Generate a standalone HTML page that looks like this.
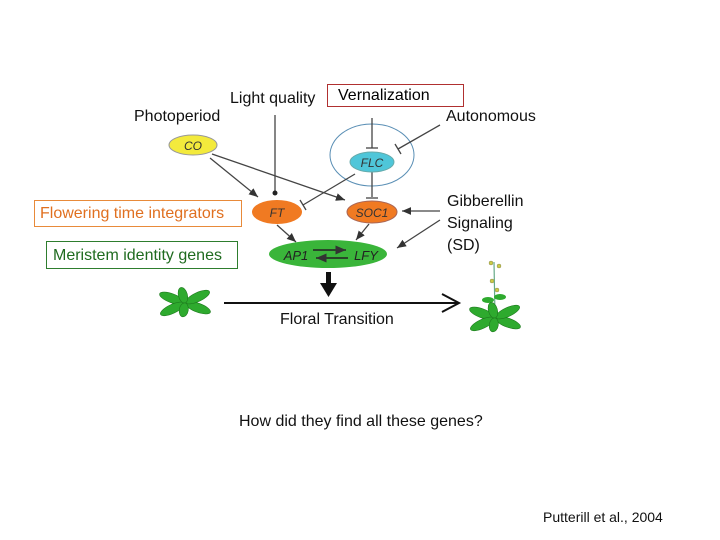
<!DOCTYPE html>
<html><head><meta charset="utf-8"><style>
html,body{margin:0;padding:0;background:#fff}
body{width:720px;height:540px;position:relative;overflow:hidden;font-family:"Liberation Sans",sans-serif}
.t{position:absolute;font-size:16px;color:#111;white-space:nowrap;line-height:1}
.box{position:absolute;font-size:16px;line-height:1;white-space:nowrap;box-sizing:border-box}
</style></head><body>
<svg width="720" height="540" style="position:absolute;left:0;top:0">
<defs>
<marker id="a" markerWidth="8" markerHeight="8" refX="7" refY="4" orient="auto"><path d="M0,1 L7,4 L0,7 z" fill="#333"/></marker>
<g id="ros" fill="#2eaa2e" stroke="#1d7a1d" stroke-width=".6">
<ellipse cx="-14" cy="0" rx="13" ry="4.5" transform="rotate(20)"/>
<ellipse cx="-14" cy="0" rx="13" ry="4.5" transform="rotate(-25)"/>
<ellipse cx="14" cy="0" rx="13" ry="4.5" transform="rotate(20)"/>
<ellipse cx="14" cy="0" rx="13" ry="4.5" transform="rotate(-25)"/>
<ellipse cx="0" cy="-8" rx="4.5" ry="8" transform="rotate(-15)"/>
<ellipse cx="0" cy="7" rx="4.5" ry="7" transform="rotate(10)"/>
</g>
</defs>
<ellipse cx="372" cy="155" rx="42" ry="31" fill="none" stroke="#5a8fb5" stroke-width="1"/>
<g stroke="#444" stroke-width="1.3" fill="none">
<line x1="210" y1="158" x2="258" y2="197" marker-end="url(#a)"/>
<line x1="212" y1="154" x2="345" y2="200" marker-end="url(#a)"/>
<line x1="275" y1="115" x2="275" y2="193"/>
<line x1="372" y1="118" x2="372" y2="148"/><line x1="366" y1="148" x2="378" y2="148"/>
<line x1="440" y1="125" x2="398" y2="149"/><line x1="395" y1="144" x2="401" y2="154"/>
<line x1="355" y1="174" x2="303" y2="205"/><line x1="300" y1="200" x2="306" y2="210"/>
<line x1="372" y1="172" x2="372" y2="197"/><line x1="366" y1="198" x2="378" y2="198"/>
<line x1="440" y1="211" x2="402" y2="211" marker-end="url(#a)"/>
<line x1="440" y1="220" x2="397" y2="248" marker-end="url(#a)"/>
<line x1="277" y1="225" x2="296" y2="242" marker-end="url(#a)"/>
<line x1="369" y1="224" x2="356" y2="240" marker-end="url(#a)"/>
</g>
<circle cx="275" cy="193" r="2.5" fill="#222"/>
<ellipse cx="193" cy="145" rx="24" ry="10" fill="#f3ea3c" stroke="#999"/>
<text x="193" y="150" font-size="12" text-anchor="middle" font-style="italic" fill="#333">CO</text>
<ellipse cx="372" cy="162" rx="22" ry="10" fill="#4fc6d9" stroke="#6aa"/>
<text x="372" y="167" font-size="12" text-anchor="middle" font-style="italic" fill="#333">FLC</text>
<ellipse cx="277" cy="212" rx="25" ry="12" fill="#f07a22"/>
<text x="277" y="217" font-size="12" text-anchor="middle" font-style="italic" fill="#333">FT</text>
<ellipse cx="372" cy="212" rx="25" ry="11" fill="#f07a22" stroke="#a65"/>
<text x="372" y="217" font-size="12" text-anchor="middle" font-style="italic" fill="#333">SOC1</text>
<ellipse cx="328" cy="254" rx="59" ry="14" fill="#3ab53a"/>
<text x="296" y="260" font-size="13" text-anchor="middle" font-style="italic" fill="#222">AP1</text>
<text x="366" y="260" font-size="13" text-anchor="middle" font-style="italic" fill="#222">LFY</text>
<g stroke="#222" stroke-width="1.5"><line x1="313" y1="250" x2="346" y2="250" marker-end="url(#a)"/><line x1="348" y1="258" x2="316" y2="258" marker-end="url(#a)"/></g>
<rect x="326" y="272" width="5" height="12" fill="#111"/>
<path d="M320,283 L337,283 L328.5,297 z" fill="#111"/>
<line x1="224" y1="303" x2="458" y2="303" stroke="#111" stroke-width="2"/>
<path d="M442,294 L459,303 L442,312" fill="none" stroke="#111" stroke-width="2"/>
<use href="#ros" transform="translate(185,303)"/>
<line x1="495" y1="316" x2="494" y2="262" stroke="#6a8" stroke-width="1.2"/>
<g fill="#2eaa2e"><ellipse cx="488" cy="300" rx="6" ry="3"/><ellipse cx="500" cy="297" rx="6" ry="3"/></g>
<use href="#ros" transform="translate(495,318)"/>
<g fill="#cc4" stroke="#885" stroke-width=".5"><circle cx="491" cy="263" r="2"/><circle cx="499" cy="266" r="2"/><circle cx="492" cy="281" r="2"/><circle cx="497" cy="290" r="2"/></g>
</svg>
<div class="t" style="left:134px;top:109px">Photoperiod</div>
<div class="t" style="left:230px;top:91px">Light quality</div>
<div class="box" style="left:327px;top:84px;width:137px;height:23px;border:1px solid #b03030;padding:3px 10px">Vernalization</div>
<div class="t" style="left:446px;top:109px">Autonomous</div>
<div class="t" style="left:447px;top:191px;line-height:22px">Gibberellin<br>Signaling<br>(SD)</div>
<div class="box" style="left:34px;top:200px;width:208px;height:27px;border:1px solid #e88a3a;color:#e07020;padding:5px 5px">Flowering time integrators</div>
<div class="box" style="left:46px;top:241px;width:192px;height:28px;border:1px solid #2e7d2e;color:#1f6b1f;padding:6px 6px">Meristem identity genes</div>
<div class="t" style="left:280px;top:312px">Floral Transition</div>
<div class="t" style="left:239px;top:414px">How did they find all these genes?</div>
<div class="t" style="left:543px;top:510px;font-size:14px">Putterill et al., 2004</div>
</body></html>
